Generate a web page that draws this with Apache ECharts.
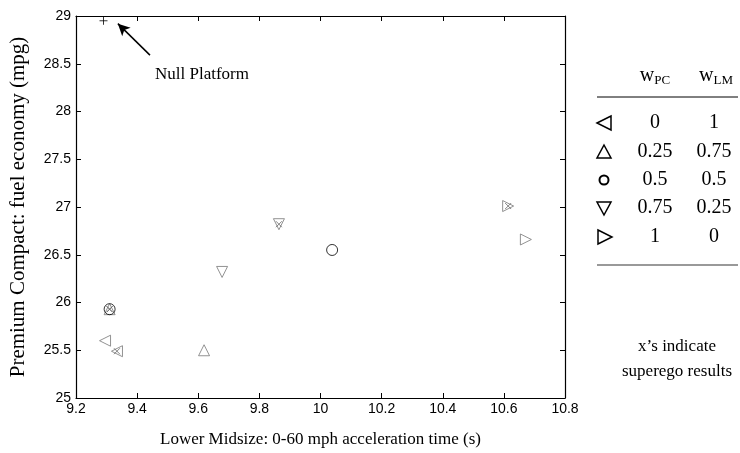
<!DOCTYPE html>
<html>
<head>
<meta charset="utf-8">
<script src="https://cdn.jsdelivr.net/npm/echarts@6/dist/echarts.min.js"></script>
<style>
html, body { margin: 0; padding: 0; background: #fff; }
#container { width: 740px; height: 453px; }
</style>
</head>
<body>
<div id="container"></div>
<script>
// data
var nullPlatform = [[9.29, 28.95]];
var weightsPC = ['0', '0.25', '0.5', '0.75', '1'];
var weightsLM = ['1', '0.75', '0.5', '0.25', '0'];
// one normal result and one superego result per weight pair
var normalResults = [[9.295, 25.60], [9.619, 25.50], [10.038, 26.55], [9.678, 26.32], [10.672, 26.66]];
var superegoResults = [[9.334, 25.49], [9.31, 25.93], [9.31, 25.93], [9.864, 26.82], [10.614, 27.01]];
var arrowFrom = [9.442, 28.59];
var arrowTo = [9.337, 28.92];

var serif = '"Liberation Serif", "Times New Roman", serif';
var sans = '"Liberation Sans", Arial, sans-serif';

var shapes = ['triangle', 'triangle', 'circle', 'triangle', 'triangle'];
var rotations = [90, 0, 0, 180, -90];
var strokes = ['#777', '#777', '#000', '#777', '#777'];

var dom = document.getElementById('container');
var myChart = echarts.init(dom, null, { renderer: 'canvas' });

var series = [];
for (var i = 0; i < weightsPC.length; i++) {
    series.push({
        name: 'w' + weightsPC[i],
        type: 'scatter',
        symbol: shapes[i],
        symbolRotate: rotations[i],
        symbolSize: 11,
        itemStyle: { color: 'rgba(0,0,0,0)', borderColor: strokes[i], borderWidth: 1 },
        data: [normalResults[i], superegoResults[i]],
        z: 3
    });
}
// x's for the superego results
series.push({
    name: 'superego',
    type: 'scatter',
    symbol: 'path://M0,0L10,10M10,0L0,10',
    symbolSize: 6,
    itemStyle: { color: 'rgba(0,0,0,0)', borderColor: '#666', borderWidth: 1 },
    data: superegoResults,
    z: 4
});
series.push({
    name: 'Null Platform',
    type: 'scatter',
    symbol: 'path://M5,0L5,10M0,5L10,5',
    symbolSize: 8,
    itemStyle: { color: 'rgba(0,0,0,0)', borderColor: '#000', borderWidth: 1 },
    data: nullPlatform,
    markLine: {
        silent: true,
        symbol: ['none', 'arrow'],
        symbolSize: [9, 12],
        lineStyle: { color: '#000', width: 1.5, type: 'solid' },
        label: { show: false },
        data: [[{ coord: arrowFrom }, { coord: arrowTo }]]
    }
});

// legend table on the right
var colX = 604;
var rowY = [123, 152, 180, 208, 237];
var tri = function (rot) {
    // outline triangle, pointing by rot
    var s = 7;
    var pts = {
        left: [[colX - s, 0], [colX + s, -s], [colX + s, s]],
        up: [[colX, -s], [colX + s, s - 1], [colX - s, s - 1]],
        down: [[colX - s, -s + 1], [colX + s, -s + 1], [colX, s]],
        right: [[colX - s + 1, -s], [colX + s + 1, 0], [colX - s + 1, s]]
    }[rot];
    return pts;
};
var graphics = [];
var dirs = ['left', 'up', null, 'down', 'right'];
for (var r = 0; r < weightsPC.length; r++) {
    if (dirs[r]) {
        var pts = tri(dirs[r]).map(function (p) { return [p[0], p[1] + rowY[r]]; });
        graphics.push({ type: 'polygon', shape: { points: pts },
            style: { fill: 'none', stroke: '#000', lineWidth: 1.5 } });
    } else {
        graphics.push({ type: 'circle', shape: { cx: colX, cy: rowY[r], r: 4.5 },
            style: { fill: 'none', stroke: '#000', lineWidth: 2 } });
    }
    graphics.push({ type: 'text', x: 655, y: rowY[r], style: { text: weightsPC[r], font: '20px ' + serif,
        fill: '#000', align: 'center', verticalAlign: 'middle' } });
    graphics.push({ type: 'text', x: 714, y: rowY[r], style: { text: weightsLM[r], font: '20px ' + serif,
        fill: '#000', align: 'center', verticalAlign: 'middle' } });
}
graphics.push({ type: 'text', x: 655, y: 76, style: {
    text: 'w{s|PC}', fill: '#000', align: 'center', verticalAlign: 'middle',
    rich: { s: { fontSize: 13, fontFamily: serif, padding: [10, 0, 0, 0] } },
    font: '20px ' + serif } });
graphics.push({ type: 'text', x: 716, y: 76, style: {
    text: 'w{s|LM}', fill: '#000', align: 'center', verticalAlign: 'middle',
    rich: { s: { fontSize: 13, fontFamily: serif, padding: [10, 0, 0, 0] } },
    font: '20px ' + serif } });
graphics.push({ type: 'line', shape: { x1: 597, y1: 97, x2: 738, y2: 97 }, style: { stroke: '#000', lineWidth: 1 } });
graphics.push({ type: 'line', shape: { x1: 597, y1: 265, x2: 738, y2: 265 }, style: { stroke: '#777', lineWidth: 1.5 } });
graphics.push({ type: 'text', x: 677, y: 347, style: { text: 'x\u2019s indicate', font: '17px ' + serif,
    fill: '#000', align: 'center', verticalAlign: 'middle' } });
graphics.push({ type: 'text', x: 677, y: 372, style: { text: 'superego results', font: '17px ' + serif,
    fill: '#000', align: 'center', verticalAlign: 'middle' } });
graphics.push({ type: 'text', x: 155, y: 75, style: { text: 'Null Platform', font: '17px ' + serif,
    fill: '#000', align: 'left', verticalAlign: 'middle' } });

var axisCommon = {
    type: 'value',
    axisLine: { show: true, onZero: false, lineStyle: { color: '#000', width: 1.2 } },
    axisTick: { show: true, inside: true, length: 5, lineStyle: { color: '#000' } },
    splitLine: { show: false }
};

var option = {
    animation: false,
    grid: { left: 76, right: 175, top: 16, bottom: 53 },
    xAxis: [
        Object.assign({}, axisCommon, {
            min: 9.2, max: 10.8, interval: 0.2, position: 'bottom',
            axisLabel: { color: '#000', fontFamily: sans, fontSize: 14, margin: 4 },
            name: 'Lower Midsize: 0-60 mph acceleration time (s)',
            nameLocation: 'middle', nameGap: 33,
            nameTextStyle: { color: '#000', fontFamily: serif, fontSize: 17 }
        }),
        Object.assign({}, axisCommon, {
            min: 9.2, max: 10.8, interval: 0.2, position: 'top',
            axisLabel: { show: false }
        })
    ],
    yAxis: [
        Object.assign({}, axisCommon, {
            min: 25, max: 29, interval: 0.5, position: 'left',
            axisLabel: { color: '#000', fontFamily: sans, fontSize: 14, margin: 5 },
            name: 'Premium Compact: fuel economy (mpg)',
            nameLocation: 'middle', nameGap: 47,
            nameTextStyle: { color: '#000', fontFamily: serif, fontSize: 21 }
        }),
        Object.assign({}, axisCommon, {
            min: 25, max: 29, interval: 0.5, position: 'right',
            axisLabel: { show: false }
        })
    ],
    series: series,
    graphic: graphics
};

myChart.setOption(option);
window.addEventListener('resize', myChart.resize);
</script>
</body>
</html>
